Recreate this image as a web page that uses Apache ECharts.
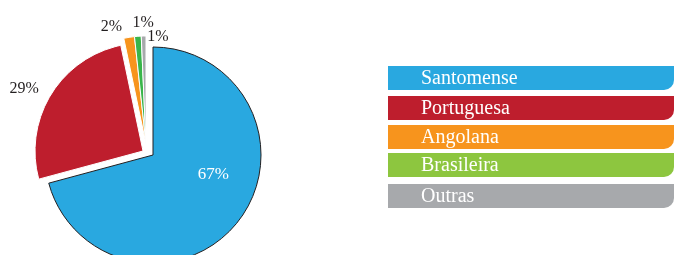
<!DOCTYPE html>
<html><head><meta charset="utf-8">
<script src="https://cdn.jsdelivr.net/npm/echarts@6/dist/echarts.min.js"></script>
<style>html,body{margin:0;padding:0;background:#fff}#c{width:674px;height:255px}</style>
</head><body><div id="c"></div>
<script>
// Categories and printed percentages
const categories = ['Santomense', 'Portuguesa', 'Angolana', 'Brasileira', 'Outras'];
const percentLabels = ['67%', '29%', '2%', '1%', '1%'];
// Slice shares as drawn in the picture (angles of the slices)
const values = [70.8, 25.9, 1.6, 1.0, 0.7];
const pieColors = ['#29a8e0', '#be1e2d', '#f7941d', '#39b54a', '#a7a9ac'];
const legendColors = ['#29a8e0', '#be1e2d', '#f7941d', '#8dc63f', '#a7a9ac'];
// Which exploded group each slice belongs to (0 = blue, 1 = red, 2 = small slices)
const sliceGroup = [0, 1, 2, 2, 2];

const font = '"Liberation Serif", "DejaVu Serif", serif';
const groupCenters = [[153, 155], [143, 151], [146, 144]];
const insideOffset = [15, -15];
const labelShift = [[0, 0], [-12, -6], [-7, -11], [16, -14], [25, 1]];

const chart = echarts.init(document.getElementById('c'), null, {renderer: 'canvas'});

function groupData(g) {
  // one full ring per group: slices of other groups are transparent spacers
  const out = [];
  categories.forEach((name, i) => {
    if (sliceGroup[i] === g) {
      out.push({
        name, value: values[i], idx: i,
        itemStyle: {color: pieColors[i], borderColor: i === 0 ? '#231f20' : '#fff', borderWidth: 1},
        label: i === 0
          ? {show: true, position: 'inside', color: '#fff', fontSize: 17, offset: insideOffset}
          : {show: true, position: 'outside', color: '#231f20', fontSize: 16}
      });
    } else {
      out.push({name: '_' + name, value: values[i], idx: -1,
        itemStyle: {color: 'rgba(0,0,0,0)', borderWidth: 0}, label: {show: false}});
    }
  });
  return out;
}

const series = [0, 1, 2].map(g => {
  const d = groupData(g);
  return {
    type: 'pie',
    center: groupCenters[g],
    radius: 108,
    startAngle: 90,
    clockwise: true,
    avoidLabelOverlap: false,
    minShowLabelAngle: 0,
    silent: true,
    labelLayout: p => {
      const i = d[p.dataIndex].idx;
      return i < 0 ? {} : {dx: labelShift[i][0], dy: labelShift[i][1], hideOverlap: false};
    },
    labelLine: {show: false, length: 0, length2: 0},
    label: {formatter: p => d[p.dataIndex].idx < 0 ? '' : percentLabels[d[p.dataIndex].idx], fontFamily: font, distanceToLabelLine: 0},
    emphasis: {disabled: true},
    data: d
  };
});

const rowTop = [66, 96, 125, 153, 184];
const graphics = categories.map((name, i) => ({
  type: 'group',
  children: [
    {type: 'rect', shape: {x: 388, y: rowTop[i], width: 286, height: 24, r: [0, 0, 10, 0]}, style: {fill: legendColors[i]}},
    {type: 'text', style: {x: 421, y: rowTop[i] + 13, text: name, fill: '#fff', font: '20px ' + font, textVerticalAlign: 'middle'}}
  ]
}));

chart.setOption({animation: false, graphic: graphics, series});
</script></body></html>
